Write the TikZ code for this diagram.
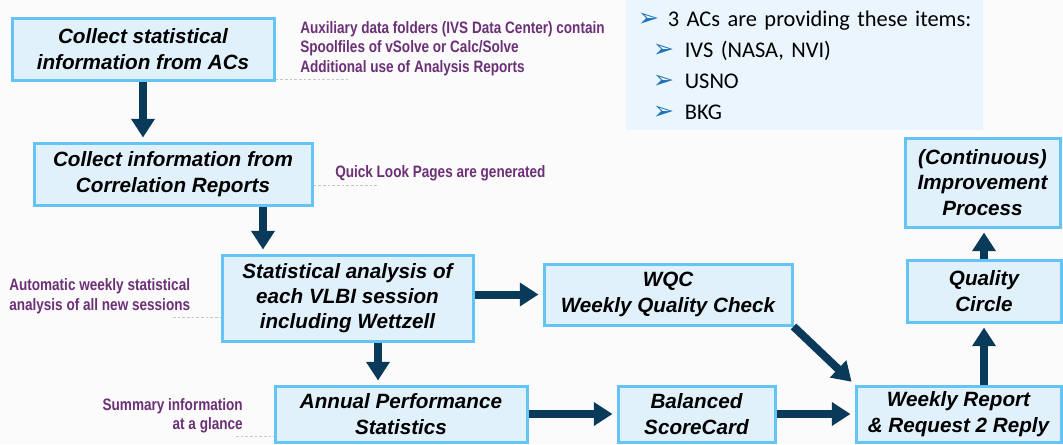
\documentclass[tikz,border=0pt]{standalone}
\usepackage{fontspec}
\setmainfont{Liberation Sans}
\newfontfamily\notefont[FakeStretch=0.82]{Liberation Sans Bold}
\newfontfamily\listfont{Carlito}
\newfontfamily\symfont{DejaVu Sans}
\usetikzlibrary{arrows.meta, positioning, calc}
\definecolor{pagebg}{RGB}{251,251,252}
\definecolor{boxfill}{RGB}{225,241,252}
\definecolor{boxline}{RGB}{100,196,245}
\definecolor{navy}{RGB}{10,58,90}
\definecolor{notepurple}{RGB}{108,48,118}
\definecolor{infofill}{RGB}{234,245,253}
\definecolor{bullet}{RGB}{30,115,185}
\newcommand{\mk}{{\symfont\fontsize{19}{19}\selectfont\color{bullet}➢}}

\begin{document}
\begin{tikzpicture}[x=0.75pt, y=-0.75pt,
    box/.style={draw=boxline, line width=2.25pt, fill=boxfill, align=center, inner sep=0pt,
        font=\fontsize{15.5}{19}\selectfont\bfseries\itshape},
    note/.style={text=notepurple, inner sep=0pt, align=left, font=\notefont\fontsize{12.4}{14.6}\selectfont},
    flow/.style={draw=navy, line width=6pt, -{Triangle[width=17pt, length=14pt]}, shorten >=3pt},
    leader/.style={draw=gray!45, line width=0.75pt, dash pattern=on 2pt off 1.5pt}]
    \fill[pagebg] (0,0) rectangle (1063,444);
    \useasboundingbox (0,0) rectangle (1063,444);

    % info panel
    \node[fill=infofill, minimum width=267.75pt, minimum height=97.5pt, inner xsep=2.875pt, inner ysep=0pt,
        text width=262pt, align=left, font=\listfont\fontsize{16.8}{23.25}\selectfont] (acs) at (804.5,65)
        {\hspace*{6pt}\makebox[22.5pt][l]{\mk}3 ACs are providing these items:\\
         \hspace*{17.25pt}\makebox[24pt][l]{\mk}IVS (NASA, NVI)\\
         \hspace*{17.25pt}\makebox[24pt][l]{\mk}USNO\\
         \hspace*{17.25pt}\makebox[24pt][l]{\mk}BKG};

    % process boxes
    \node[box, minimum width=196.5pt, minimum height=46.5pt] (c1) at (143,49) {Collect statistical\\information from ACs};
    \node[box, minimum width=208.5pt, minimum height=46.5pt] (c2) at (173,174) {Collect information from\\Correlation Reports};
    \node[box, minimum width=188.25pt, minimum height=64.5pt] (stat) at (347.5,298) {Statistical analysis of\\each VLBI session\\including Wettzell};
    \node[box, minimum width=186pt, minimum height=45.75pt] (wqc) at (668,294.5) {WQC\\Weekly Quality Check};
    \node[box, minimum width=189pt, minimum height=42pt] (annual) at (401,414) {Annual Performance\\Statistics};
    \node[box, minimum width=117.75pt, minimum height=42pt] (bsc) at (696.5,414) {Balanced\\ScoreCard};
    \node[box, minimum width=153.75pt, minimum height=42pt] (weekly) at (958.5,414) {Weekly Report\\\& Request 2 Reply};
    \node[box, minimum width=115.5pt, minimum height=46.5pt] (quality) at (984,291) {Quality\\Circle};
    \node[box, minimum width=116.25pt, minimum height=66.75pt] (improve) at (982.5,182.5) {(Continuous)\\Improvement\\Process};

    % remarks
    \node[note, anchor=west] (aux) at (300,48.5) {Auxiliary data folders (IVS Data Center) contain\\Spoolfiles of vSolve or Calc/Solve\\Additional use of Analysis Reports};
    \node[note, anchor=west] (qlp) at (335,173) {Quick Look Pages are generated};
    \node[note, anchor=west] (autonote) at (9,296) {Automatic weekly statistical\\analysis of all new sessions};
    \node[note, anchor=east, align=right] (summ) at (243,415.5) {Summary information\\at a glance};

    \coordinate (auxend) at (350,79);
    \coordinate (qlend) at (377,185);
    \coordinate (autoend) at (173,317);
    \coordinate (sumend) at (236,436);
    \draw[leader] (auxend -| c1.east) -- (auxend);
    \draw[leader] (qlend -| c2.east) -- (qlend);
    \draw[leader] (autoend) -- (autoend -| stat.west);
    \draw[leader] (sumend) -- (sumend -| annual.west);

    % flow
    \coordinate (feed) at ([xshift=67.5pt]c2.south);
    \coordinate (drop) at ([xshift=-17.25pt]annual.north);
    \draw[flow] (c1.south) -- (c1.south |- c2.north);
    \draw[flow] (feed) -- (feed |- stat.north);
    \draw[flow] (stat.east |- wqc.west) -- (wqc.west);
    \draw[flow] (drop |- stat.south) -- (drop);
    \draw[flow] (annual.east) -- (bsc.west);
    \draw[flow] (bsc.east) -- (weekly.west);
    \draw[flow] (wqc.south east) -- (weekly.north west);
    \draw[flow] (quality.south |- weekly.north) -- (quality.south);
    \draw[flow] (quality.north) -- (quality.north |- improve.south);
\end{tikzpicture}
\end{document}
